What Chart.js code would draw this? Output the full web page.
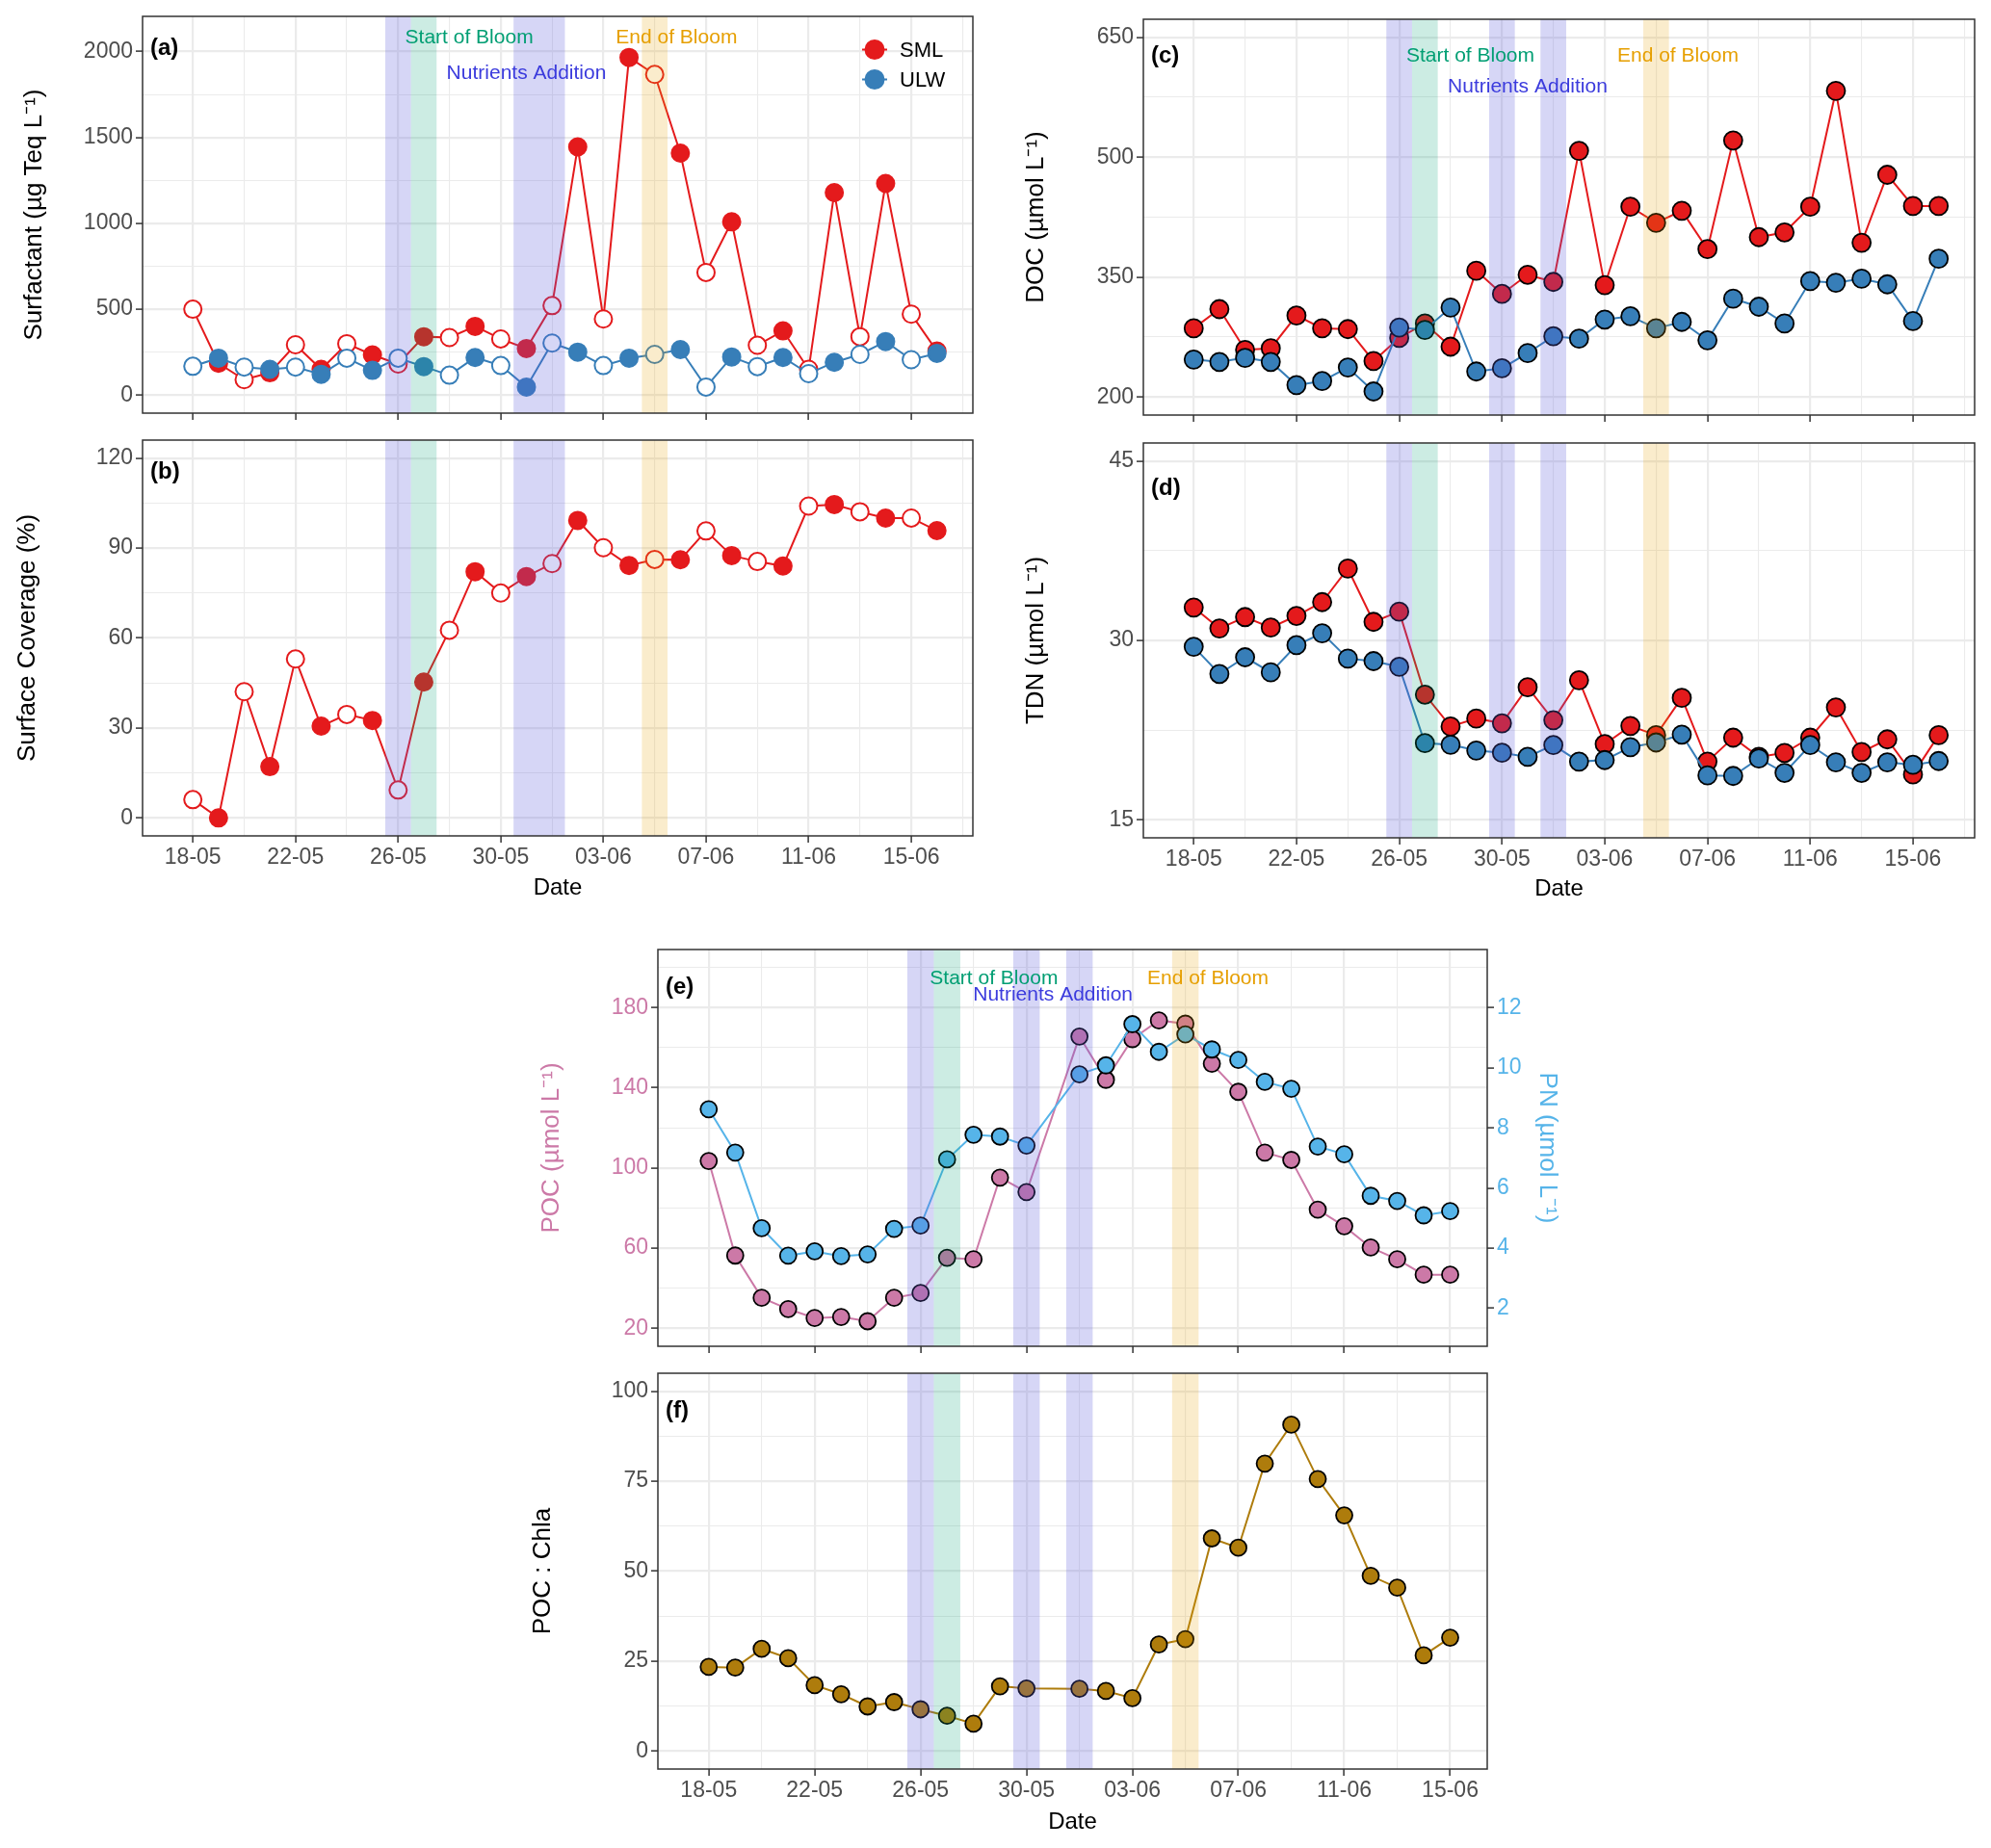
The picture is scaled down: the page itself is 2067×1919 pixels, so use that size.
<!DOCTYPE html>
<html><head><meta charset="utf-8">
<script src="https://cdn.jsdelivr.net/npm/chart.js@4.4.1/dist/chart.umd.min.js"></script>
<style>
html,body{margin:0;padding:0;background:#fff;}
body{width:2067px;height:1919px;position:relative;overflow:hidden;}
canvas{position:absolute;}
</style></head><body>
<canvas id="pa"></canvas><canvas id="pb"></canvas><canvas id="pc"></canvas>
<canvas id="pd"></canvas><canvas id="pe"></canvas><canvas id="pf"></canvas>
<script>
// ---------------- DATA ----------------
const DATES = ['18-05','19-05','20-05','21-05','22-05','23-05','24-05','25-05','26-05','27-05','28-05','29-05','30-05','31-05',
  '01-06','02-06','03-06','04-06','05-06','06-06','07-06','08-06','09-06','10-06','11-06','12-06','13-06','14-06','15-06','16-06'];
// 1 = filled marker, 0 = open marker (panels a, b)
const MARKER_FILLED = [0,1,0,1,0,1,0,1,0,1,0,1,0,1,0,1,0,1,0,1,0,1,0,1,0,1,0,1,0,1];
const SURF_SML = [500,185,90,130,293,150,299,234,181,340,335,400,327,271,521,1445,443,1966,1867,1409,714,1009,290,374,150,1179,340,1232,471,256];
const SURF_ULW = [168,215,163,150,163,121,215,144,215,166,116,219,172,47,303,250,172,215,237,265,47,222,166,219,125,191,237,312,206,243];
const COVER_SML = [6.1,0,42.1,17.1,53,30.6,34.5,32.5,9.3,45.3,62.6,82.1,75,80.5,84.8,99.2,90.1,84.2,86.2,86.1,95.7,87.5,85.5,84,104,104.5,102.1,100,100,95.8];
const DOC_SML = [286,310,259,261,302,286,285,245,274,292,263,358,329,353,344,508,340,438,418,433,385,521,400,406,438,583,393,478,439,439];
const DOC_ULW = [247,244,249,244,215,220,237,207,287,284,312,232,236,255,276,273,297,301,286,294,271,323,313,292,345,343,348,341,295,373];
const TDN_SML = [32.75,31.0,31.95,31.07,32.05,33.2,36.0,31.55,32.4,25.47,22.8,23.47,23.07,26.08,23.33,26.67,21.33,22.85,22.08,25.2,19.87,21.87,20.27,20.6,21.87,24.4,20.67,21.73,18.8,22.08];
const TDN_ULW = [29.47,27.2,28.59,27.33,29.6,30.6,28.48,28.27,27.79,21.41,21.28,20.8,20.61,20.27,21.25,19.87,20.0,21.07,21.47,22.13,18.72,18.67,20.13,18.93,21.25,19.81,18.93,19.81,19.6,19.92];
const POC = [103.5,56.3,35.2,29.6,25.1,25.6,23.5,35.2,37.6,55.2,54.4,95.2,88,null,165.6,144,164.3,173.6,172,152,138,107.7,104,79.2,70.9,60.3,54.4,46.7,46.7];
const PN = [8.62,7.18,4.66,3.75,3.89,3.73,3.79,4.64,4.75,6.95,7.77,7.71,7.41,null,9.78,10.08,11.45,10.53,11.11,10.61,10.26,9.53,9.3,7.38,7.12,5.74,5.57,5.09,5.23];
const POC_CHLA = [23.4,23.2,28.4,25.8,18.3,15.8,12.4,13.6,11.6,9.8,7.6,18.0,17.4,null,17.3,16.7,14.7,29.6,31.1,59.1,56.5,79.9,90.7,75.6,65.5,48.7,45.4,26.6,31.5];
// event periods (day index from 18-05)
const NUTRIENT_AB = [[7.5,8.5],[12.5,14.5]];
const NUTRIENT_CF = [[7.5,8.5],[11.5,12.5],[13.5,14.5]];
const BLOOM_START = [8.5,9.5];
const BLOOM_END = [17.5,18.5];

// ---------------- STYLE ----------------
const FONT = "'Liberation Sans', Arial, Helvetica, sans-serif";
const RED = '#E41A1C', BLUE = '#377EB8', PINK = '#CC79A7', SKY = '#56B4E9', GOLD = '#AE7C0C';
const C_NUT = 'rgba(90,90,220,0.25)', C_START = 'rgba(0,158,115,0.2)', C_END = 'rgba(230,159,0,0.2)';
const T_NUT = '#3B3BDD', T_START = '#009E73', T_END = '#E69F00';

function range(a,b,s){const r=[];for(let v=a;v<=b+1e-9;v+=s)r.push(+v.toFixed(4));return r;}
function zeroPad(s){s.paddingLeft=0;s.paddingRight=0;s.paddingTop=0;s.paddingBottom=0;}
function gridOpts(isMajor, onArea){
  return {
    display:true, drawOnChartArea:onArea!==false, drawTicks:true,
    color:'#EBEBEB',
    lineWidth: c => (c.tick && isMajor(c.tick.value)) ? 2.2 : 1.1,
    tickColor: c => (c.tick && isMajor(c.tick.value)) ? '#333333' : 'rgba(0,0,0,0)',
    tickWidth:1.5, tickLength:7
  };
}
function xAxis(o){
  const isMajor = v => Math.abs(v % 4) < 1e-6;
  return {
    type:'linear', position:'bottom', min:o.min, max:o.max,
    afterBuildTicks: s => { s.ticks = range(0,30,2).filter(v => v>=o.min && v<=o.max).map(v => ({value:v})); },
    afterFit: s => { s.height = o.height; zeroPad(s); },
    grid: gridOpts(isMajor),
    border:{display:false},
    ticks:{display:!!o.labels, autoSkip:false, maxRotation:0, minRotation:0, padding:2, color:'#4D4D4D',
      font:{family:FONT,size:23}, callback: v => isMajor(v) ? DATES[v] : ''},
    title:{display:!!o.labels, text:'Date', color:'#000', font:{family:FONT,size:24}, padding:{top:0,bottom:o.titlePad||0}}
  };
}
function yAxis(o){
  const isMajor = v => o.majors.some(m => Math.abs(m-v) < 1e-6);
  return {
    type:'linear', position:o.position||'left', min:o.min, max:o.max,
    afterBuildTicks: s => { s.ticks = o.majors.concat(o.minors||[]).filter(v => v>=o.min && v<=o.max).sort((a,b)=>a-b).map(v => ({value:v})); },
    afterFit: s => { s.width = o.width; zeroPad(s); },
    grid: gridOpts(isMajor, o.gridOnArea),
    border:{display:false},
    ticks:{autoSkip:false, padding:3, color:o.tickColor||'#4D4D4D', font:{family:FONT,size:23},
      callback: v => isMajor(v) ? String(v) : ''},
    title:{display:true, text:o.title, color:o.titleColor||'#000', font:{family:FONT,size:26}, padding:{top:o.titlePad,bottom:0}}
  };
}
function decor(cfg){
  return {
    id:'decor'+cfg.tag,
    afterDatasetsDraw(chart){
      const {ctx, chartArea:a} = chart, x = chart.scales.x, y = chart.scales.y;
      ctx.save();
      cfg.bands.forEach(b => {
        const x0 = x.getPixelForValue(b.range[0]), x1 = x.getPixelForValue(b.range[1]);
        ctx.fillStyle = b.color; ctx.fillRect(x0, a.top, x1-x0, a.bottom-a.top);
      });
      ctx.font = '21px ' + FONT; ctx.textAlign = 'center'; ctx.textBaseline = 'middle';
      (cfg.notes||[]).forEach(n => { ctx.fillStyle = n.color; ctx.fillText(n.text, x.getPixelForValue(n.x), y.getPixelForValue(n.y)); });
      ctx.font = 'bold 24px ' + FONT; ctx.textAlign = 'left'; ctx.fillStyle = '#000';
      ctx.fillText('(' + cfg.tag + ')', a.left + 8, a.top + cfg.tagDy);
      if (cfg.legend) {
        cfg.legend.forEach((l,i) => {
          const cx = a.right - 102, cy = a.top + 34.5 + i*31;
          ctx.strokeStyle = l.color; ctx.lineWidth = 2;
          ctx.beginPath(); ctx.moveTo(cx-13, cy); ctx.lineTo(cx+13, cy); ctx.stroke();
          ctx.fillStyle = l.color; ctx.beginPath(); ctx.arc(cx, cy, 10.5, 0, Math.PI*2); ctx.fill();
          ctx.fillStyle = '#000'; ctx.font = '22px ' + FONT; ctx.textAlign = 'left';
          ctx.fillText(l.text, a.right - 76, cy + 1);
        });
      }
      ctx.strokeStyle = '#333333'; ctx.lineWidth = 1.5;
      ctx.strokeRect(a.left, a.top, a.right-a.left, a.bottom-a.top);
      ctx.restore();
    }
  };
}
function pts(arr){ return arr.map((v,i) => ({x:i, y:v})); }
function build(id, geo, datasets, scales, dec){
  const el = document.getElementById(id);
  el.width = geo.w; el.height = geo.h;
  el.style.left = geo.left + 'px'; el.style.top = geo.top + 'px';
  el.style.width = geo.w + 'px'; el.style.height = geo.h + 'px';
  return new Chart(el, {
    type:'line',
    data:{datasets},
    options:{
      responsive:false, devicePixelRatio:1, animation:false, events:[],
      layout:{padding:{top:geo.padTop, right:geo.padRight, left:0, bottom:0}},
      plugins:{legend:{display:false}, tooltip:{enabled:false}},
      scales
    },
    plugins:[decor(dec)]
  });
}
function openFilled(color){
  return {
    borderColor:color, borderWidth:2, pointRadius:9, pointBorderWidth:2,
    pointBorderColor:color,
    pointBackgroundColor: c => MARKER_FILLED[c.dataIndex] ? color : '#FFFFFF'
  };
}
function blackRim(color, r){
  return { borderColor:color, borderWidth:2, pointRadius:r, pointBorderWidth:1.8,
    pointBorderColor:'#000', pointBackgroundColor:color };
}
const bandsAB = NUTRIENT_AB.map(r => ({range:r, color:C_NUT})).concat([{range:BLOOM_START,color:C_START},{range:BLOOM_END,color:C_END}]);
const bandsCF = NUTRIENT_CF.map(r => ({range:r, color:C_NUT})).concat([{range:BLOOM_START,color:C_START},{range:BLOOM_END,color:C_END}]);
function notes(yTop, yNut){
  return [
    {text:'Start of Bloom', x:10.77, y:yTop, color:T_START},
    {text:'Nutrients Addition', x:13.0, y:yNut, color:T_NUT},
    {text:'End of Bloom', x:18.85, y:yTop, color:T_END}
  ];
}
const XA = {min:-1.96, max:30.4};
const XE = {min:-1.92, max:29.4};

// (a) Surfactant
build('pa', {left:0, top:0, w:1060, h:445, padTop:17, padRight:50}, [
  Object.assign({label:'SML', data:pts(SURF_SML), order:1}, openFilled(RED)),
  Object.assign({label:'ULW', data:pts(SURF_ULW), order:0}, openFilled(BLUE))
], {
  x: xAxis(Object.assign({height:16}, XA)),
  y: yAxis({min:-105, max:2205, majors:[0,500,1000,1500,2000], minors:[250,750,1250,1750], width:148,
    title:'Surfactant (\u00B5g Teq L\u207B\u00B9)', titlePad:20.4})
}, {tag:'a', tagDy:33, bands:bandsAB, notes:notes(2078,1873),
    legend:[{text:'SML',color:RED},{text:'ULW',color:BLUE}]});

// (b) Surface coverage
build('pb', {left:0, top:445, w:1060, h:495, padTop:12, padRight:50}, [
  Object.assign({label:'SML', data:pts(COVER_SML)}, openFilled(RED))
], {
  x: xAxis(Object.assign({height:72, labels:true, titlePad:3.6}, XA)),
  y: yAxis({min:-6, max:126, majors:[0,30,60,90,120], minors:[15,45,75,105], width:148,
    title:'Surface Coverage (%)', titlePad:13})
}, {tag:'b', tagDy:33, bands:bandsAB});

// (c) DOC
build('pc', {left:1040, top:0, w:1027, h:445, padTop:20, padRight:17}, [
  Object.assign({label:'SML', data:pts(DOC_SML), order:1}, blackRim(RED, 9.5)),
  Object.assign({label:'ULW', data:pts(DOC_ULW), order:0}, blackRim(BLUE, 9.5))
], {
  x: xAxis(Object.assign({height:14}, XA)),
  y: yAxis({min:177.5, max:672.5, majors:[200,350,500,650], minors:[275,425,575], width:147,
    title:'DOC (\u00B5mol L\u207B\u00B9)', titlePad:20.4})
}, {tag:'c', tagDy:38, bands:bandsCF, notes:notes(627,588)});

// (d) TDN
build('pd', {left:1040, top:445, w:1027, h:495, padTop:15, padRight:17}, [
  Object.assign({label:'SML', data:pts(TDN_SML), order:1}, blackRim(RED, 9.5)),
  Object.assign({label:'ULW', data:pts(TDN_ULW), order:0}, blackRim(BLUE, 9.5))
], {
  x: xAxis(Object.assign({height:70, labels:true, titlePad:2.6}, XA)),
  y: yAxis({min:13.5, max:46.5, majors:[15,30,45], minors:[22.5,37.5], width:147,
    title:'TDN (\u00B5mol L\u207B\u00B9)', titlePad:20.4})
}, {tag:'d', tagDy:47, bands:bandsCF});

// (e) POC & PN
const PN_RATIO = 15;
build('pe', {left:540, top:945, w:1100, h:470, padTop:41, padRight:0}, [
  Object.assign({label:'POC', data:pts(POC), yAxisID:'y', order:1, spanGaps:true}, blackRim(PINK, 8.5)),
  Object.assign({label:'PN', data:pts(PN), yAxisID:'y2', order:0, spanGaps:true}, blackRim(SKY, 8.5))
], {
  x: xAxis(Object.assign({height:17}, XE)),
  y: yAxis({min:11, max:209, majors:[20,60,100,140,180], minors:[40,80,120,160,200], width:143,
    title:'POC (\u00B5mol L\u207B\u00B9)', titlePad:16.8, tickColor:PINK, titleColor:PINK}),
  y2: yAxis({position:'right', min:11/PN_RATIO, max:209/PN_RATIO, majors:[2,4,6,8,10,12], width:96, gridOnArea:false,
    title:'PN (\u00B5mol L\u207B\u00B9)', titlePad:18.4, tickColor:SKY, titleColor:SKY})
}, {tag:'e', tagDy:39, bands:bandsCF, notes:notes(194.7,186.1)});

// (f) POC:Chla
build('pf', {left:540, top:1415, w:1100, h:504, padTop:11, padRight:96}, [
  Object.assign({label:'POC:Chla', data:pts(POC_CHLA), spanGaps:true}, blackRim(GOLD, 8.5))
], {
  x: xAxis(Object.assign({height:82, labels:true, titlePad:12.6}, XE)),
  y: yAxis({min:-5, max:105, majors:[0,25,50,75,100], minors:[12.5,37.5,62.5,87.5], width:143,
    title:'POC : Chla', titlePad:7.8})
}, {tag:'f', tagDy:39, bands:bandsCF});
</script>
</body></html>
